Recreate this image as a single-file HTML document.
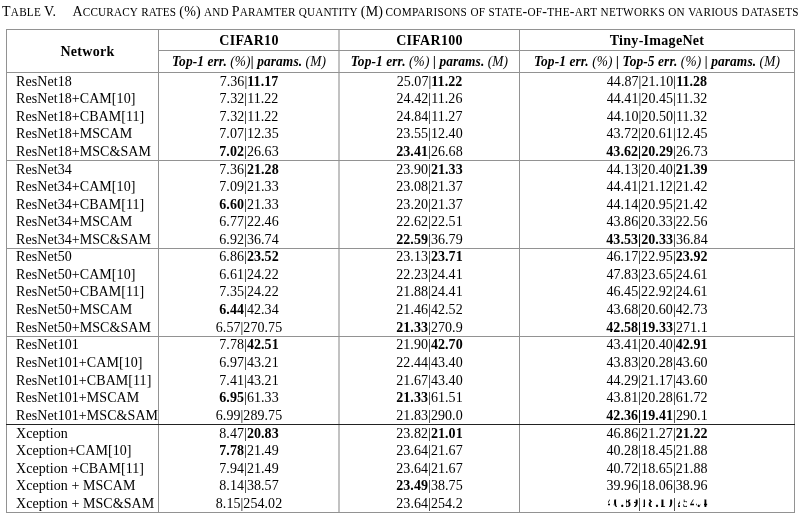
<!DOCTYPE html><html><head><meta charset="utf-8"><title>Table V</title><style>
html,body{margin:0;padding:0;background:#fff;}
body{width:803px;height:518px;position:relative;overflow:hidden;font-family:"Liberation Serif","Times New Roman",serif;color:#000;}
.t{position:absolute;line-height:20px;height:20px;white-space:pre;}
.b{letter-spacing:0.07px;}
.n{letter-spacing:0.06px;}
.l{position:absolute;background:#929292;}
.g{display:inline-block;font-weight:bold;line-height:20px;height:20px;vertical-align:top;position:relative;top:-1px;-webkit-mask-image:linear-gradient(90deg,transparent 0,transparent 5%,#000 5%,#000 14%,transparent 14%,transparent 21%,#000 21%,#000 34%,transparent 34%,transparent 43%,#000 43%,#000 55%,transparent 55%,transparent 63%,#000 63%,#000 78%,transparent 78%,transparent 86%,#000 86%);mask-image:linear-gradient(90deg,transparent 0,transparent 5%,#000 5%,#000 14%,transparent 14%,transparent 21%,#000 21%,#000 34%,transparent 34%,transparent 43%,#000 43%,#000 55%,transparent 55%,transparent 63%,#000 63%,#000 78%,transparent 78%,transparent 86%,#000 86%);clip-path:inset(6.5px 0 5.5px 0);}
.sc{font-size:11.2px;display:inline-block;line-height:1;transform:scaleY(1.1);transform-origin:0 9.6px;}
b{font-weight:bold;}
.bi{font-style:italic;letter-spacing:0.1px;transform:scaleX(0.957);transform-origin:center;}
.bd{font-weight:bold;letter-spacing:0.3px;}

</style></head><body>
<div class="t tt" style="left:2.0px;top:2px;width:803px;font-size:14.0px;text-align:left;letter-spacing:0.25px;word-spacing:-0.5px;">T<span class="sc">ABLE</span> V.</div>
<div class="t tt" style="left:72.6px;top:2px;width:803px;font-size:14.0px;text-align:left;letter-spacing:0.155px;word-spacing:-0.5px;">A<span class="sc">CCURACY</span> <span class="sc">RATES</span> (%) <span class="sc">AND</span> P<span class="sc">ARAMTER</span> <span class="sc">QUANTITY</span> (M)</div>
<div class="t tt" style="left:385.6px;top:2px;width:803px;font-size:14.0px;text-align:left;letter-spacing:0.27px;word-spacing:-0.5px;"><span class="sc">COMPARISONS</span> <span class="sc">OF</span> <span class="sc">STATE</span>-<span class="sc">OF</span>-<span class="sc">THE</span>-<span class="sc">ART</span> <span class="sc">NETWORKS</span> <span class="sc">ON</span> <span class="sc">VARIOUS</span> <span class="sc">DATASETS</span></div>
<div class="l" style="left:6px;top:29px;width:1px;height:484px;"></div>
<div class="l" style="left:158px;top:29px;width:1px;height:484px;"></div>
<div class="l" style="left:519px;top:29px;width:1px;height:484px;"></div>
<div class="l" style="left:794px;top:29px;width:1px;height:484px;"></div>
<div class="l" style="left:338px;top:29px;width:2px;height:484px;background:#c2c2c2"></div>
<div class="l" style="left:6px;top:29px;width:789px;height:1px;"></div>
<div class="l" style="left:158px;top:50px;width:637px;height:1px;"></div>
<div class="l" style="left:6px;top:72px;width:789px;height:1px;"></div>
<div class="l" style="left:6px;top:160px;width:789px;height:1px;"></div>
<div class="l" style="left:6px;top:248px;width:789px;height:1px;"></div>
<div class="l" style="left:6px;top:336px;width:789px;height:1px;"></div>
<div class="l" style="left:6px;top:424px;width:789px;height:1px;background:#222;"></div>
<div class="l" style="left:6px;top:512px;width:789px;height:1px;"></div>
<div class="t bd" style="left:12px;top:42px;width:151px;font-size:14.0px;text-align:center;">Network</div>
<div class="t bd" style="left:159px;top:31px;width:180px;font-size:14.0px;text-align:center;">CIFAR10</div>
<div class="t bd" style="left:340px;top:31px;width:179px;font-size:14.0px;text-align:center;">CIFAR100</div>
<div class="t bd" style="left:520px;top:31px;width:274px;font-size:14.0px;text-align:center;">Tiny-ImageNet</div>
<div class="t bi" style="left:159px;top:52px;width:180px;font-size:14.0px;text-align:center;"><b>Top-1 err.</b> (%)<b>| params.</b> (M)</div>
<div class="t bi" style="left:340px;top:52px;width:179px;font-size:14.0px;text-align:center;"><b>Top-1 err.</b> (%) <b>| params.</b> (M)</div>
<div class="t bi" style="left:520px;top:52px;width:274px;font-size:14.0px;text-align:center;"><b>Top-1 err.</b> (%) <b>| Top-5 err.</b> (%) <b>| params.</b> (M)</div>
<div class="t b" style="left:16.0px;top:72px;width:160px;font-size:14.0px;text-align:left;">ResNet18</div>
<div class="t n" style="left:159px;top:72px;width:180px;font-size:14.0px;text-align:center;">7.36|<b>11.17</b></div>
<div class="t n" style="left:340px;top:72px;width:179px;font-size:14.0px;text-align:center;">25.07|<b>11.22</b></div>
<div class="t n" style="left:520px;top:72px;width:274px;font-size:14.0px;text-align:center;">44.87|21.10|<b>11.28</b></div>
<div class="t b" style="left:16.0px;top:89px;width:160px;font-size:14.0px;text-align:left;">ResNet18+CAM[10]</div>
<div class="t n" style="left:159px;top:89px;width:180px;font-size:14.0px;text-align:center;">7.32|11.22</div>
<div class="t n" style="left:340px;top:89px;width:179px;font-size:14.0px;text-align:center;">24.42|11.26</div>
<div class="t n" style="left:520px;top:89px;width:274px;font-size:14.0px;text-align:center;">44.41|20.45|11.32</div>
<div class="t b" style="left:16.0px;top:107px;width:160px;font-size:14.0px;text-align:left;">ResNet18+CBAM[11]</div>
<div class="t n" style="left:159px;top:107px;width:180px;font-size:14.0px;text-align:center;">7.32|11.22</div>
<div class="t n" style="left:340px;top:107px;width:179px;font-size:14.0px;text-align:center;">24.84|11.27</div>
<div class="t n" style="left:520px;top:107px;width:274px;font-size:14.0px;text-align:center;">44.10|20.50|11.32</div>
<div class="t b" style="left:16.0px;top:124px;width:160px;font-size:14.0px;text-align:left;">ResNet18+MSCAM</div>
<div class="t n" style="left:159px;top:124px;width:180px;font-size:14.0px;text-align:center;">7.07|12.35</div>
<div class="t n" style="left:340px;top:124px;width:179px;font-size:14.0px;text-align:center;">23.55|12.40</div>
<div class="t n" style="left:520px;top:124px;width:274px;font-size:14.0px;text-align:center;">43.72|20.61|12.45</div>
<div class="t b" style="left:16.0px;top:142px;width:160px;font-size:14.0px;text-align:left;">ResNet18+MSC&amp;SAM</div>
<div class="t n" style="left:159px;top:142px;width:180px;font-size:14.0px;text-align:center;"><b>7.02</b>|26.63</div>
<div class="t n" style="left:340px;top:142px;width:179px;font-size:14.0px;text-align:center;"><b>23.41</b>|26.68</div>
<div class="t n" style="left:520px;top:142px;width:274px;font-size:14.0px;text-align:center;"><b>43.62|20.29</b>|26.73</div>
<div class="t b" style="left:16.0px;top:160px;width:160px;font-size:14.0px;text-align:left;">ResNet34</div>
<div class="t n" style="left:159px;top:160px;width:180px;font-size:14.0px;text-align:center;">7.36|<b>21.28</b></div>
<div class="t n" style="left:340px;top:160px;width:179px;font-size:14.0px;text-align:center;">23.90|<b>21.33</b></div>
<div class="t n" style="left:520px;top:160px;width:274px;font-size:14.0px;text-align:center;">44.13|20.40|<b>21.39</b></div>
<div class="t b" style="left:16.0px;top:177px;width:160px;font-size:14.0px;text-align:left;">ResNet34+CAM[10]</div>
<div class="t n" style="left:159px;top:177px;width:180px;font-size:14.0px;text-align:center;">7.09|21.33</div>
<div class="t n" style="left:340px;top:177px;width:179px;font-size:14.0px;text-align:center;">23.08|21.37</div>
<div class="t n" style="left:520px;top:177px;width:274px;font-size:14.0px;text-align:center;">44.41|21.12|21.42</div>
<div class="t b" style="left:16.0px;top:195px;width:160px;font-size:14.0px;text-align:left;">ResNet34+CBAM[11]</div>
<div class="t n" style="left:159px;top:195px;width:180px;font-size:14.0px;text-align:center;"><b>6.60</b>|21.33</div>
<div class="t n" style="left:340px;top:195px;width:179px;font-size:14.0px;text-align:center;">23.20|21.37</div>
<div class="t n" style="left:520px;top:195px;width:274px;font-size:14.0px;text-align:center;">44.14|20.95|21.42</div>
<div class="t b" style="left:16.0px;top:212px;width:160px;font-size:14.0px;text-align:left;">ResNet34+MSCAM</div>
<div class="t n" style="left:159px;top:212px;width:180px;font-size:14.0px;text-align:center;">6.77|22.46</div>
<div class="t n" style="left:340px;top:212px;width:179px;font-size:14.0px;text-align:center;">22.62|22.51</div>
<div class="t n" style="left:520px;top:212px;width:274px;font-size:14.0px;text-align:center;">43.86|20.33|22.56</div>
<div class="t b" style="left:16.0px;top:230px;width:160px;font-size:14.0px;text-align:left;">ResNet34+MSC&amp;SAM</div>
<div class="t n" style="left:159px;top:230px;width:180px;font-size:14.0px;text-align:center;">6.92|36.74</div>
<div class="t n" style="left:340px;top:230px;width:179px;font-size:14.0px;text-align:center;"><b>22.59</b>|36.79</div>
<div class="t n" style="left:520px;top:230px;width:274px;font-size:14.0px;text-align:center;"><b>43.53|20.33</b>|36.84</div>
<div class="t b" style="left:16.0px;top:247px;width:160px;font-size:14.0px;text-align:left;">ResNet50</div>
<div class="t n" style="left:159px;top:247px;width:180px;font-size:14.0px;text-align:center;">6.86|<b>23.52</b></div>
<div class="t n" style="left:340px;top:247px;width:179px;font-size:14.0px;text-align:center;">23.13|<b>23.71</b></div>
<div class="t n" style="left:520px;top:247px;width:274px;font-size:14.0px;text-align:center;">46.17|22.95|<b>23.92</b></div>
<div class="t b" style="left:16.0px;top:265px;width:160px;font-size:14.0px;text-align:left;">ResNet50+CAM[10]</div>
<div class="t n" style="left:159px;top:265px;width:180px;font-size:14.0px;text-align:center;">6.61|24.22</div>
<div class="t n" style="left:340px;top:265px;width:179px;font-size:14.0px;text-align:center;">22.23|24.41</div>
<div class="t n" style="left:520px;top:265px;width:274px;font-size:14.0px;text-align:center;">47.83|23.65|24.61</div>
<div class="t b" style="left:16.0px;top:282px;width:160px;font-size:14.0px;text-align:left;">ResNet50+CBAM[11]</div>
<div class="t n" style="left:159px;top:282px;width:180px;font-size:14.0px;text-align:center;">7.35|24.22</div>
<div class="t n" style="left:340px;top:282px;width:179px;font-size:14.0px;text-align:center;">21.88|24.41</div>
<div class="t n" style="left:520px;top:282px;width:274px;font-size:14.0px;text-align:center;">46.45|22.92|24.61</div>
<div class="t b" style="left:16.0px;top:300px;width:160px;font-size:14.0px;text-align:left;">ResNet50+MSCAM</div>
<div class="t n" style="left:159px;top:300px;width:180px;font-size:14.0px;text-align:center;"><b>6.44</b>|42.34</div>
<div class="t n" style="left:340px;top:300px;width:179px;font-size:14.0px;text-align:center;">21.46|42.52</div>
<div class="t n" style="left:520px;top:300px;width:274px;font-size:14.0px;text-align:center;">43.68|20.60|42.73</div>
<div class="t b" style="left:16.0px;top:318px;width:160px;font-size:14.0px;text-align:left;">ResNet50+MSC&amp;SAM</div>
<div class="t n" style="left:159px;top:318px;width:180px;font-size:14.0px;text-align:center;">6.57|270.75</div>
<div class="t n" style="left:340px;top:318px;width:179px;font-size:14.0px;text-align:center;"><b>21.33</b>|270.9</div>
<div class="t n" style="left:520px;top:318px;width:274px;font-size:14.0px;text-align:center;"><b>42.58|19.33</b>|271.1</div>
<div class="t b" style="left:16.0px;top:335px;width:160px;font-size:14.0px;text-align:left;">ResNet101</div>
<div class="t n" style="left:159px;top:335px;width:180px;font-size:14.0px;text-align:center;">7.78|<b>42.51</b></div>
<div class="t n" style="left:340px;top:335px;width:179px;font-size:14.0px;text-align:center;">21.90|<b>42.70</b></div>
<div class="t n" style="left:520px;top:335px;width:274px;font-size:14.0px;text-align:center;">43.41|20.40|<b>42.91</b></div>
<div class="t b" style="left:16.0px;top:353px;width:160px;font-size:14.0px;text-align:left;">ResNet101+CAM[10]</div>
<div class="t n" style="left:159px;top:353px;width:180px;font-size:14.0px;text-align:center;">6.97|43.21</div>
<div class="t n" style="left:340px;top:353px;width:179px;font-size:14.0px;text-align:center;">22.44|43.40</div>
<div class="t n" style="left:520px;top:353px;width:274px;font-size:14.0px;text-align:center;">43.83|20.28|43.60</div>
<div class="t b" style="left:16.0px;top:371px;width:160px;font-size:14.0px;text-align:left;">ResNet101+CBAM[11]</div>
<div class="t n" style="left:159px;top:371px;width:180px;font-size:14.0px;text-align:center;">7.41|43.21</div>
<div class="t n" style="left:340px;top:371px;width:179px;font-size:14.0px;text-align:center;">21.67|43.40</div>
<div class="t n" style="left:520px;top:371px;width:274px;font-size:14.0px;text-align:center;">44.29|21.17|43.60</div>
<div class="t b" style="left:16.0px;top:388px;width:160px;font-size:14.0px;text-align:left;">ResNet101+MSCAM</div>
<div class="t n" style="left:159px;top:388px;width:180px;font-size:14.0px;text-align:center;"><b>6.95</b>|61.33</div>
<div class="t n" style="left:340px;top:388px;width:179px;font-size:14.0px;text-align:center;"><b>21.33</b>|61.51</div>
<div class="t n" style="left:520px;top:388px;width:274px;font-size:14.0px;text-align:center;">43.81|20.28|61.72</div>
<div class="t b" style="left:16.0px;top:406px;width:160px;font-size:14.0px;text-align:left;">ResNet101+MSC&amp;SAM</div>
<div class="t n" style="left:159px;top:406px;width:180px;font-size:14.0px;text-align:center;">6.99|289.75</div>
<div class="t n" style="left:340px;top:406px;width:179px;font-size:14.0px;text-align:center;">21.83|290.0</div>
<div class="t n" style="left:520px;top:406px;width:274px;font-size:14.0px;text-align:center;"><b>42.36|19.41</b>|290.1</div>
<div class="t b" style="left:16.0px;top:424px;width:160px;font-size:14.0px;text-align:left;">Xception</div>
<div class="t n" style="left:159px;top:424px;width:180px;font-size:14.0px;text-align:center;">8.47|<b>20.83</b></div>
<div class="t n" style="left:340px;top:424px;width:179px;font-size:14.0px;text-align:center;">23.82|<b>21.01</b></div>
<div class="t n" style="left:520px;top:424px;width:274px;font-size:14.0px;text-align:center;">46.86|21.27|<b>21.22</b></div>
<div class="t b" style="left:16.0px;top:441px;width:160px;font-size:14.0px;text-align:left;">Xception+CAM[10]</div>
<div class="t n" style="left:159px;top:441px;width:180px;font-size:14.0px;text-align:center;"><b>7.78</b>|21.49</div>
<div class="t n" style="left:340px;top:441px;width:179px;font-size:14.0px;text-align:center;">23.64|21.67</div>
<div class="t n" style="left:520px;top:441px;width:274px;font-size:14.0px;text-align:center;">40.28|18.45|21.88</div>
<div class="t b" style="left:16.0px;top:459px;width:160px;font-size:14.0px;text-align:left;">Xception +CBAM[11]</div>
<div class="t n" style="left:159px;top:459px;width:180px;font-size:14.0px;text-align:center;">7.94|21.49</div>
<div class="t n" style="left:340px;top:459px;width:179px;font-size:14.0px;text-align:center;">23.64|21.67</div>
<div class="t n" style="left:520px;top:459px;width:274px;font-size:14.0px;text-align:center;">40.72|18.65|21.88</div>
<div class="t b" style="left:16.0px;top:476px;width:160px;font-size:14.0px;text-align:left;">Xception + MSCAM</div>
<div class="t n" style="left:159px;top:476px;width:180px;font-size:14.0px;text-align:center;">8.14|38.57</div>
<div class="t n" style="left:340px;top:476px;width:179px;font-size:14.0px;text-align:center;"><b>23.49</b>|38.75</div>
<div class="t n" style="left:520px;top:476px;width:274px;font-size:14.0px;text-align:center;">39.96|18.06|38.96</div>
<div class="t b" style="left:16.0px;top:494px;width:160px;font-size:14.0px;text-align:left;">Xception + MSC&amp;SAM</div>
<div class="t n" style="left:159px;top:494px;width:180px;font-size:14.0px;text-align:center;">8.15|254.02</div>
<div class="t n" style="left:340px;top:494px;width:179px;font-size:14.0px;text-align:center;">23.64|254.2</div>
<div class="t n gar" style="left:520px;top:494px;width:274px;font-size:14.0px;text-align:center;"><span class="g">40.89</span>|<span class="g">18.10</span>|<span class="g">254.4</span></div>
</body></html>
